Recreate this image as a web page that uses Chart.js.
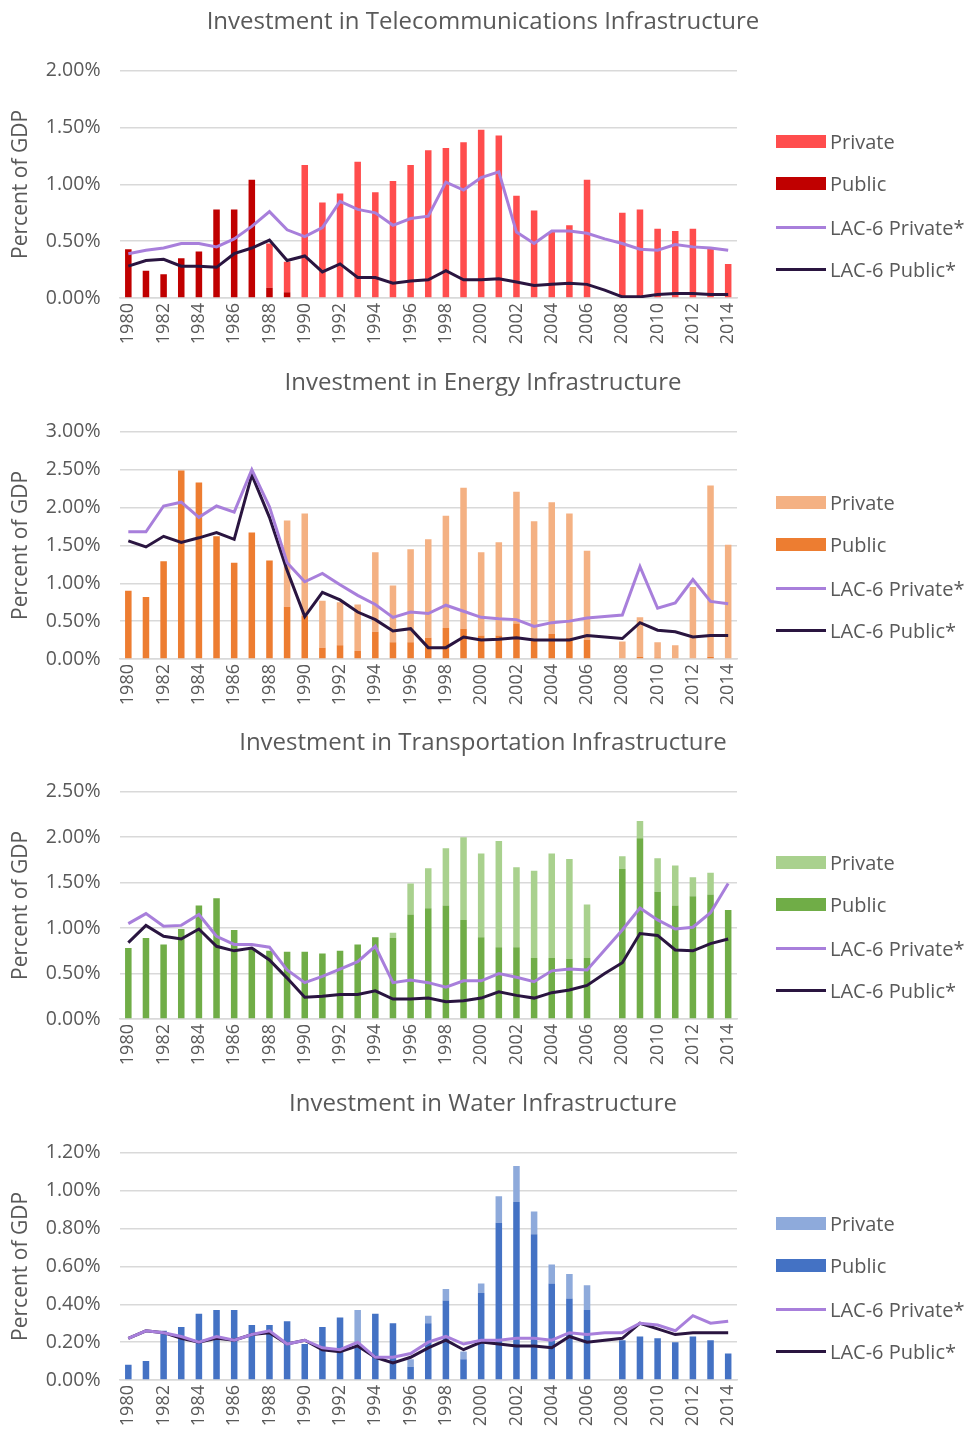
<!DOCTYPE html>
<html>
<head>
<meta charset="utf-8">
<script src="https://cdn.jsdelivr.net/npm/chart.js@4.4.1/dist/chart.umd.min.js"></script>
<style>
  body { margin: 0; background: #fff; font-family: "Open Sans", sans-serif; }
  .panel { position: absolute; left: 0; width: 966px; height: 360px; }
  .legend { position: absolute; left: 776px; top: 0; width: 190px; height: 360px; }
  .item { position: absolute; left: 0; height: 24px; display: flex; align-items: center; color: #595959; font-size: 20px; white-space: nowrap; }
  .swatch { width: 50px; margin-right: 4px; }
</style>
</head>
<body>
<div class="panel" style="top:0"><canvas id="telecom"></canvas><div class="legend" id="telecomLegend"></div></div>
<div class="panel" style="top:361px"><canvas id="energy"></canvas><div class="legend" id="energyLegend"></div></div>
<div class="panel" style="top:721px"><canvas id="transport"></canvas><div class="legend" id="transportLegend"></div></div>
<div class="panel" style="top:1082px"><canvas id="water"></canvas><div class="legend" id="waterLegend"></div></div>
<script>
// --- DATA (percent of GDP) ---
const years = ['1980', '1981', '1982', '1983', '1984', '1985', '1986', '1987', '1988', '1989',
    '1990', '1991', '1992', '1993', '1994', '1995', '1996', '1997', '1998', '1999',
    '2000', '2001', '2002', '2003', '2004', '2005', '2006', '2007', '2008', '2009',
    '2010', '2011', '2012', '2013', '2014'];

// Telecommunications
const telecomPublic = [0.43, 0.24, 0.21, 0.35, 0.41, 0.78, 0.78, 1.04, 0.09, 0.05,
    0, 0, 0, 0, 0, 0, 0, 0, 0, 0,
    0, 0, 0, 0, 0, 0, 0, null, 0, 0,
    0, 0, 0, 0, 0];
const telecomPrivate = [0, 0, 0, 0, 0, 0, 0, 0, 0.39, 0.27,
    1.17, 0.84, 0.92, 1.20, 0.93, 1.03, 1.17, 1.30, 1.32, 1.37,
    1.48, 1.43, 0.90, 0.77, 0.58, 0.64, 1.04, null, 0.75, 0.78,
    0.61, 0.59, 0.61, 0.45, 0.30];
const telecomLacPrivate = [0.39, 0.42, 0.44, 0.48, 0.48, 0.45, 0.52, 0.63, 0.76, 0.60,
    0.54, 0.62, 0.85, 0.78, 0.75, 0.64, 0.70, 0.72, 1.02, 0.95,
    1.06, 1.11, 0.58, 0.48, 0.59, 0.59, 0.57, 0.52, 0.48, 0.43,
    0.42, 0.47, 0.45, 0.44, 0.42];
const telecomLacPublic = [0.28, 0.33, 0.34, 0.28, 0.28, 0.27, 0.39, 0.44, 0.51, 0.33,
    0.37, 0.23, 0.30, 0.18, 0.18, 0.13, 0.15, 0.16, 0.24, 0.16,
    0.16, 0.17, 0.14, 0.11, 0.12, 0.13, 0.12, 0.07, 0.01, 0.01,
    0.03, 0.04, 0.04, 0.03, 0.03];

// Energy
const energyPublic = [0.90, 0.82, 1.29, 2.49, 2.33, 1.62, 1.27, 1.67, 1.30, 0.69,
    0.57, 0.15, 0.18, 0.11, 0.36, 0.22, 0.22, 0.28, 0.41, 0.40,
    0.31, 0.31, 0.47, 0.26, 0.33, 0.28, 0.25, null, 0.01, 0.03,
    0.02, 0, 0.01, 0.03, 0.01];
const energyPrivate = [0, 0, 0, 0, 0, 0, 0, 0, 0, 1.14,
    1.35, 0.62, 0.57, 0.61, 1.05, 0.75, 1.23, 1.30, 1.48, 1.86,
    1.10, 1.23, 1.74, 1.56, 1.74, 1.64, 1.18, null, 0.22, 0.52,
    0.20, 0.18, 0.94, 2.26, 1.50];
const energyLacPrivate = [1.68, 1.68, 2.02, 2.07, 1.87, 2.02, 1.94, 2.50, 2.01, 1.27,
    1.02, 1.13, 0.98, 0.84, 0.72, 0.55, 0.62, 0.60, 0.71, 0.63,
    0.55, 0.53, 0.52, 0.43, 0.48, 0.50, 0.54, 0.56, 0.58, 1.22,
    0.67, 0.74, 1.05, 0.76, 0.73];
const energyLacPublic = [1.56, 1.48, 1.62, 1.54, 1.60, 1.67, 1.58, 2.43, 1.87, 1.17,
    0.56, 0.88, 0.78, 0.62, 0.52, 0.37, 0.40, 0.15, 0.15, 0.29,
    0.25, 0.26, 0.28, 0.25, 0.25, 0.25, 0.31, 0.29, 0.27, 0.48,
    0.38, 0.36, 0.29, 0.31, 0.31];

// Transportation
const transportPublic = [0.78, 0.89, 0.82, 0.99, 1.25, 1.33, 0.98, 0.78, 0.75, 0.74,
    0.74, 0.72, 0.75, 0.82, 0.90, 0.89, 1.15, 1.22, 1.25, 1.09,
    0.90, 0.79, 0.79, 0.67, 0.67, 0.66, 0.67, null, 1.65, 1.99,
    1.40, 1.25, 1.35, 1.37, 1.20];
const transportPrivate = [0, 0, 0, 0, 0, 0, 0, 0, 0, 0,
    0, 0, 0, 0, 0, 0.06, 0.34, 0.44, 0.63, 0.91,
    0.92, 1.17, 0.88, 0.96, 1.15, 1.10, 0.59, null, 0.14, 0.19,
    0.37, 0.44, 0.21, 0.24, 0];
const transportLacPrivate = [1.05, 1.16, 1.02, 1.03, 1.15, 0.91, 0.82, 0.82, 0.79, 0.54,
    0.40, 0.47, 0.55, 0.63, 0.80, 0.40, 0.43, 0.40, 0.35, 0.42,
    0.42, 0.50, 0.46, 0.41, 0.53, 0.55, 0.54, 0.76, 0.98, 1.22,
    1.09, 0.99, 1.01, 1.17, 1.49];
const transportLacPublic = [0.84, 1.03, 0.91, 0.88, 0.99, 0.80, 0.75, 0.78, 0.65, 0.45,
    0.24, 0.25, 0.27, 0.27, 0.31, 0.22, 0.22, 0.23, 0.19, 0.20,
    0.23, 0.30, 0.26, 0.23, 0.29, 0.32, 0.37, 0.50, 0.62, 0.94,
    0.92, 0.76, 0.75, 0.83, 0.88];

// Water
const waterPublic = [0.08, 0.10, 0.26, 0.28, 0.35, 0.37, 0.37, 0.29, 0.29, 0.31,
    0.19, 0.28, 0.33, 0.17, 0.35, 0.30, 0.07, 0.30, 0.42, 0.11,
    0.46, 0.83, 0.94, 0.77, 0.51, 0.43, 0.37, null, 0.21, 0.23,
    0.22, 0.20, 0.23, 0.21, 0.14];
const waterPrivate = [0, 0, 0, 0, 0, 0, 0, 0, 0, 0,
    0, 0, 0, 0.20, 0, 0, 0.04, 0.04, 0.06, 0.04,
    0.05, 0.14, 0.19, 0.12, 0.10, 0.13, 0.13, null, 0, 0,
    0, 0, 0, 0, 0];
const waterLacPrivate = [0.22, 0.26, 0.25, 0.23, 0.20, 0.23, 0.21, 0.24, 0.26, 0.19,
    0.21, 0.17, 0.16, 0.20, 0.12, 0.12, 0.14, 0.20, 0.23, 0.19,
    0.21, 0.21, 0.22, 0.22, 0.21, 0.25, 0.24, 0.25, 0.25, 0.30,
    0.29, 0.26, 0.34, 0.30, 0.31];
const waterLacPublic = [0.22, 0.26, 0.25, 0.22, 0.20, 0.22, 0.21, 0.24, 0.25, 0.19,
    0.21, 0.16, 0.15, 0.18, 0.12, 0.09, 0.12, 0.17, 0.21, 0.16,
    0.20, 0.19, 0.18, 0.18, 0.17, 0.23, 0.20, 0.21, 0.22, 0.30,
    0.27, 0.24, 0.25, 0.25, 0.25];

const FONT = '"Open Sans", sans-serif';
const TEXT = '#595959';
const GRID = '#d9d9d9';
const LAC_PRIVATE = '#a87fdb';
const LAC_PUBLIC = '#2a1540';

// --- CHART BUILDER ---
function makeChart(id, title, pub, priv, lacPriv, lacPub, pubColor, privColor, yMax, yStep) {
    const chart = new Chart(document.getElementById(id), {
        type: 'bar',
        data: {
            labels: years,
            datasets: [
                { label: 'Public', data: pub, backgroundColor: pubColor, order: 1,
                  barPercentage: 0.37, categoryPercentage: 1 },
                { label: 'Private', data: priv, backgroundColor: privColor, order: 1,
                  barPercentage: 0.37, categoryPercentage: 1 },
                { type: 'line', label: 'LAC-6 Private*', data: lacPriv, stack: 'lacPriv', order: 0,
                  borderColor: LAC_PRIVATE, borderWidth: 3, pointRadius: 0, tension: 0 },
                { type: 'line', label: 'LAC-6 Public*', data: lacPub, stack: 'lacPub', order: 0,
                  borderColor: LAC_PUBLIC, borderWidth: 3, pointRadius: 0, tension: 0 }
            ]
        },
        options: {
            responsive: true,
            maintainAspectRatio: false,
            animation: false,
            layout: { padding: 0 },
            plugins: {
                legend: { display: false },
                tooltip: { enabled: false },
                title: {
                    display: true, text: title, color: TEXT,
                    font: { family: FONT, size: 24, weight: 'normal' },
                    padding: { top: 8, bottom: 34 }
                }
            },
            scales: {
                x: {
                    stacked: true,
                    grid: { display: false, drawTicks: false },
                    border: { color: GRID, width: 1.5 },
                    ticks: {
                        autoSkip: false, minRotation: 90, maxRotation: 90, padding: 5,
                        color: TEXT, font: { family: FONT, size: 18 },
                        callback: (v, i) => (i % 2 === 0 ? years[i] : null)
                    },
                    afterFit: s => { s.height = 62; }
                },
                y: {
                    stacked: true, min: 0, max: yMax,
                    grid: { color: GRID, lineWidth: 1.5, drawTicks: false },
                    border: { display: false },
                    ticks: {
                        stepSize: yStep, padding: 19, color: TEXT,
                        font: { family: FONT, size: 19.5 },
                        callback: v => v.toFixed(2) + '%'
                    },
                    title: {
                        display: true, text: 'Percent of GDP', color: TEXT,
                        font: { family: FONT, size: 21 }, padding: { top: 8, bottom: 0 }
                    },
                    afterFit: s => { s.width = 119.5; }
                },
                // empty right axis reserving room for the legend, keeps the title centred on the page
                legendSpace: {
                    position: 'right', display: true,
                    grid: { display: false, drawTicks: false },
                    border: { display: false },
                    ticks: { display: false },
                    afterFit: s => { s.width = 229; }
                }
            }
        }
    });

    // HTML legend in the reference order
    const legend = document.getElementById(id + 'Legend');
    const order = [1, 0, 2, 3];
    const tops = [129, 171, 215, 257];
    order.forEach((di, k) => {
        const ds = chart.data.datasets[di];
        const item = document.createElement('div');
        item.className = 'item';
        item.style.top = tops[k] + 'px';
        const sw = document.createElement('span');
        sw.className = 'swatch';
        if (ds.type === 'line') {
            sw.style.height = '3px';
            sw.style.background = ds.borderColor;
        } else {
            sw.style.height = '13px';
            sw.style.background = ds.backgroundColor;
        }
        item.appendChild(sw);
        item.appendChild(document.createTextNode(ds.label));
        legend.appendChild(item);
    });
    return chart;
}

makeChart('telecom', 'Investment in Telecommunications Infrastructure',
    telecomPublic, telecomPrivate, telecomLacPrivate, telecomLacPublic, '#c00000', '#ff4d4d', 2.0, 0.5);
makeChart('energy', 'Investment in Energy Infrastructure',
    energyPublic, energyPrivate, energyLacPrivate, energyLacPublic, '#ed7d31', '#f4b183', 3.0, 0.5);
makeChart('transport', 'Investment in Transportation Infrastructure',
    transportPublic, transportPrivate, transportLacPrivate, transportLacPublic, '#70ad47', '#a9d18e', 2.5, 0.5);
makeChart('water', 'Investment in Water Infrastructure',
    waterPublic, waterPrivate, waterLacPrivate, waterLacPublic, '#4472c4', '#8eaadb', 1.2, 0.2);
</script>
</body>
</html>
